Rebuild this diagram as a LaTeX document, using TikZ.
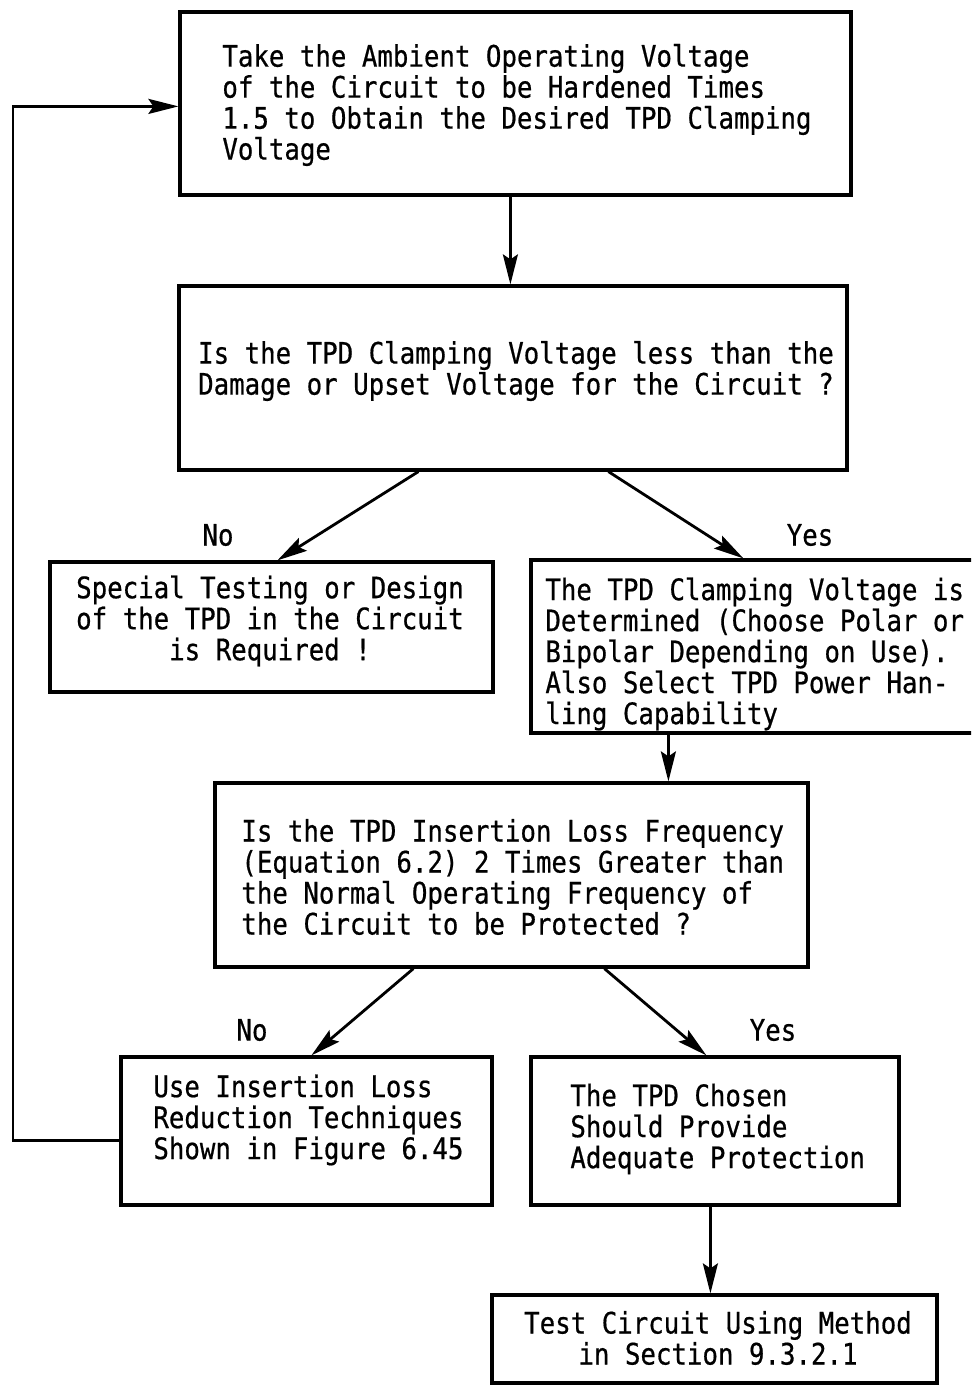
\documentclass[tikz,border=0pt]{standalone}
\usepackage{fontspec}
\usetikzlibrary{arrows.meta,calc}
% condensed typewriter-like face for all labels
\newfontfamily\tw[FakeStretch=0.87,FakeBold=0.6]{DejaVu Sans Mono}
\begin{document}
\begin{tikzpicture}[x=0.5pt,y=-0.5pt,
  box/.style={draw, line width=1.6pt, inner sep=0pt, rectangle},
  txt/.style={font=\tw\fontsize{14.8}{15.5}\selectfont, inner sep=0pt, align=left},
  ctxt/.style={txt, align=center},
  flow/.style={line width=1.4pt, -{Stealth[length=15pt,width=7.5pt,inset=2.5pt]}},
  answer/.style={font=\tw\fontsize{14.8}{15.5}\selectfont, inner sep=0pt}]
\useasboundingbox (0,0) rectangle (971,1386);
\clip (0,0) rectangle (971,1386);

% boxes
\node[box, minimum width=335.5pt, minimum height=91.5pt] (b1)   at (515.5,103.5) {};
\node[box, minimum width=334pt,   minimum height=92pt]   (b2)   at (513,378) {};
\node[box, minimum width=221.5pt, minimum height=65pt]   (bno)  at (271.5,627) {};
\node[box, minimum width=222pt,   minimum height=86.5pt] (byes) at (753,646.5) {};
\node[box, minimum width=296.5pt, minimum height=92pt]   (b3)   at (511.5,875) {};
\node[box, minimum width=185.5pt, minimum height=74pt]   (b4)   at (306.5,1131) {};
\node[box, minimum width=184pt,   minimum height=74pt]   (b5)   at (715,1131) {};
\node[box, minimum width=222.5pt, minimum height=44pt]   (b6)   at (714.5,1339) {};

% box texts
\node[txt, anchor=west] (t1) at (222,105) {Take the Ambient Operating Voltage\\of the Circuit to be Hardened Times\\1.5 to Obtain the Desired TPD Clamping\\Voltage};
\node[ctxt] (t2) at (516,371) {Is the TPD Clamping Voltage less than the\\Damage or Upset Voltage for the Circuit ?};
\node[ctxt] (tno) at (270,621) {Special Testing or Design\\of the TPD in the Circuit\\is Required !};
\node[txt, anchor=west] (tyes) at (545,654) {The TPD Clamping Voltage is\\Determined (Choose Polar or\\Bipolar Depending on Use).\\Also Select TPD Power Han-\\ling Capability};
\node[txt, anchor=west] (t3) at (241,877) {Is the TPD Insertion Loss Frequency\\(Equation 6.2) 2 Times Greater than\\the Normal Operating Frequency of\\the Circuit to be Protected ?};
\node[txt, anchor=west] (t4) at (153,1120) {Use Insertion Loss\\Reduction Techniques\\Shown in Figure 6.45};
\node[txt, anchor=west] (t5) at (570,1129) {The TPD Chosen\\Should Provide\\Adequate Protection};
\node[ctxt] (t6) at (718,1338) {Test Circuit Using Method\\in Section 9.3.2.1};

% decision answers
\node[answer] (no1)  at (218,535) {No};
\node[answer] (yes1) at (810,535) {Yes};
\node[answer] (no2)  at (252,1030) {No};
\node[answer] (yes2) at (773,1030) {Yes};

% connectors
\draw[flow] ($(b1.south west)+(332,0)$) -- ($(b2.north west)+(333,0)$);
\draw[flow] ($(b2.south west)+(241,0)$) -- ($(bno.north west)+(229,0)$);
\draw[flow] ($(b2.south west)+(431,0)$) -- ($(byes.north west)+(214,0)$);
\draw[flow] ($(byes.south west)+(139,0)$) -- ($(b3.north west)+(455,0)$);
\draw[flow] ($(b3.south west)+(200,0)$) -- ($(b4.north west)+(192,0)$);
\draw[flow] ($(b3.south west)+(391,0)$) -- ($(b5.north west)+(177,0)$);
\draw[flow] ($(b5.south west)+(181,0)$) -- ($(b6.north west)+(220,0)$);

% feedback loop back to the first step
\coordinate (fbS) at ($(b4.north west)+(0,85)$);
\coordinate (fbE) at ($(b1.north west)+(0,96)$);
\coordinate (fbX) at (13,0);
\draw[flow] (fbS) -- (fbS -| fbX) -- (fbE -| fbX) -- (fbE);
\end{tikzpicture}
\end{document}
